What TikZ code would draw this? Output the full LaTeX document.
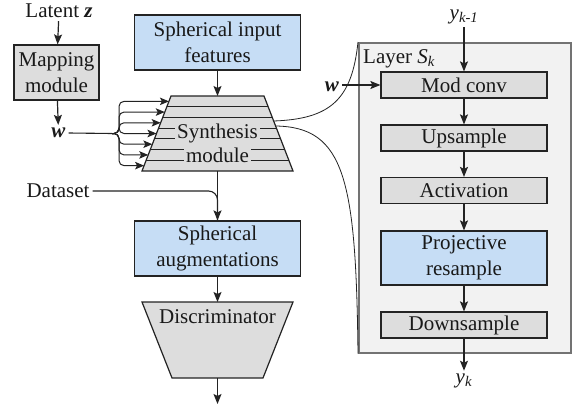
\documentclass[tikz,border=0pt]{standalone}
\usepackage{fontspec}
\setmainfont{LiberationSerif-Regular.ttf}[BoldFont=LiberationSerif-Bold.ttf, ItalicFont=LiberationSerif-Italic.ttf, BoldItalicFont=LiberationSerif-BoldItalic.ttf]
\usetikzlibrary{arrows.meta}
\definecolor{boxgray}{RGB}{221,221,221}
\definecolor{boxblue}{RGB}{198,221,245}
\definecolor{edge}{RGB}{35,35,35}
\definecolor{layerfill}{RGB}{242,242,242}
\definecolor{layeredge}{RGB}{115,115,115}
\begin{document}
\begin{tikzpicture}[x=1pt,y=-1pt,
  every node/.style={font=\rmfamily\fontsize{21}{26.5}\selectfont, inner sep=3pt, text=black!90},
  graybox/.style={draw=edge, line width=1.2pt, fill=boxgray, align=center},
  bluebox/.style={draw=edge, line width=1.2pt, fill=boxblue, align=center},
  lbox/.style={minimum width=166pt, minimum height=26pt},
  arr/.style={-{Stealth[length=10pt,width=8pt,inset=2pt]}, line width=1.2pt, draw=edge},
  farr/.style={-{Stealth[length=9pt,width=7.5pt,inset=2pt]}, line width=1pt, draw=edge},
  thin/.style={line width=0.8pt, draw=edge}]
\useasboundingbox (0,0) rectangle (574,407);

% ---------- left column ----------
\node (latent) at (59,11) {Latent \textbf{\textit{z}}};
\node[graybox, minimum width=85pt, minimum height=55pt] (map) at (56.5,72.5) {Mapping\\module};
\node (w1) at (58.5,133) {\textbf{\textit{w}}};
\draw[arr] (latent) -- (map);
\draw[arr] (map) -- (w1);

\node[bluebox, minimum width=166pt, minimum height=55pt] (sif) at (217.5,42.5) {Spherical input\\features};

% synthesis module (trapezoid with strips)
\coordinate (syntop) at (217.5,96);
\coordinate (synbot) at (217.5,171);
\fill[boxgray] (171,96) -- (264,96) -- (293,171) -- (142,171) -- cycle;
\foreach \k in {1,...,6} {
  \pgfmathsetmacro\yy{96+75*\k/7}
  \pgfmathsetmacro\xl{171-(\yy-96)*29/75}
  \pgfmathsetmacro\xr{264+(\yy-96)*29/75}
  \draw[thin] (\xl,\yy) -- (\xr,\yy);
}
\node[fill=boxgray, inner sep=2.5pt] (synt) at (217.5,133.5) {Synthesis};
\node[fill=boxgray, inner sep=2.5pt] (synm) at (217.5,154.9) {module};
\draw[draw=edge, line width=1.2pt] (171,96) -- (264,96) -- (293,171) -- (142,171) -- cycle;
\draw[arr] (sif) -- (syntop);

% fan of w inputs
\coordinate (br) at (112,133.5);
\draw[line width=1.1pt, draw=edge] (w1.east) -- (br);
\foreach \i in {0,...,6} {
  \pgfmathsetmacro\yy{96+75*(\i+0.5)/7}
  \pgfmathsetmacro\xl{171-(\yy-96)*29/75}
  \coordinate (s\i) at (\xl,\yy);
  \draw[farr, rounded corners=5pt] (br) -- (119,133.5) -- (119,\yy) -- (s\i);
}

% dataset and augmentations
\node (data) at (58,191) {Dataset};
\node[bluebox, minimum width=166pt, minimum height=55pt] (aug) at (217.5,248.5) {Spherical\\augmentations};
\draw[line width=1.1pt, draw=edge, rounded corners=9pt] (data.east) -| (aug.north);
\draw[arr] (synbot) -- (aug);

% discriminator
\coordinate (distop) at (217.5,302);
\coordinate (disbot) at (217.5,378);
\coordinate (out) at (217.5,404);
\draw[draw=edge, line width=1.2pt, fill=boxgray] (142,302) -- (293,302) -- (263,378) -- (172,378) -- cycle;
\node (dis) at (217.5,317) {Discriminator};
\draw[arr] (aug) -- (distop);
\draw[arr] (disbot) -- (out);

% ---------- layer box ----------
\node[draw=layeredge, fill=layerfill, line width=1.5pt, minimum width=212pt, minimum height=310pt, anchor=north west, inner sep=0pt] (layer) at (358,42) {};
\node[anchor=base west, inner sep=0pt] (laylab) at (363,63) {Layer \textit{S}\textsubscript{\textit{k}}};

\node[graybox, lbox] (mod) at (464,85) {Mod conv};
\node[graybox, lbox] (up) at (464,138) {Upsample};
\node[graybox, lbox] (act) at (464,190.5) {Activation};
\node[bluebox, minimum width=166pt, minimum height=54pt] (proj) at (464,258) {Projective\\resample};
\node[graybox, lbox] (down) at (464,325) {Downsample};

\node (ykm) at (464,17) {\textit{y}\textsubscript{\textit{k-1}}};
\node (yk) at (464,381) {\textit{y}\textsubscript{\textit{k}}};
\node (w2) at (332,87) {\textbf{\textit{w}}};

\draw[arr] (ykm) -- (mod);
\draw[arr] (w2.east |- mod.west) -- (mod.west);
\draw[arr] (mod) -- (up);
\draw[arr] (up) -- (act);
\draw[arr] (act) -- (proj);
\draw[arr] (proj) -- (down);
\draw[arr] (down) -- (yk);

% zoom connectors
\coordinate (za) at (273.7,121);
\coordinate (zb) at (275.6,126);
\draw[thin] (za) .. controls (330,119) and (352,100) .. (layer.north west);
\draw[thin] (zb) .. controls (345,127) and (356,180) .. (layer.south west);
\end{tikzpicture}
\end{document}
